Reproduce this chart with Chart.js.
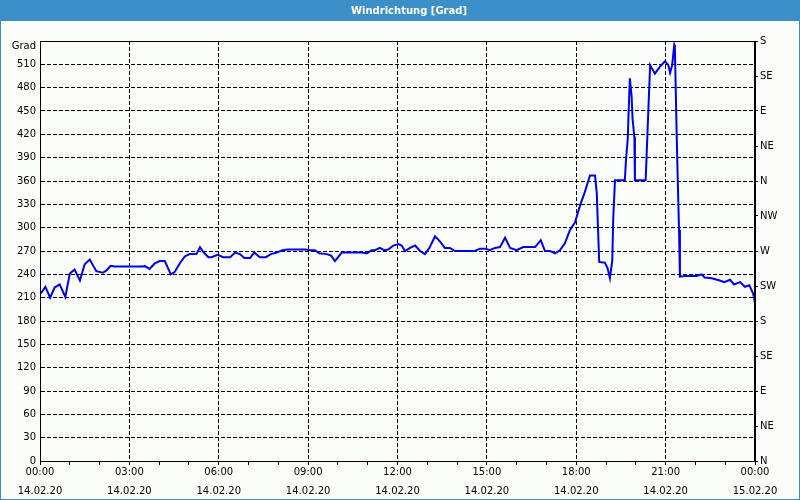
<!DOCTYPE html>
<html>
<head>
<meta charset="utf-8">
<script src="https://cdn.jsdelivr.net/npm/chart.js@4"></script>
<style>
html,body{margin:0;padding:0;background:#fafdfa;}
canvas{display:block;}
</style>
</head>
<body>
<canvas id="c" width="800" height="500"></canvas>
<script>
const TITLE = 'Windrichtung [Grad]';
const UNIT = 'Grad';
// time in hours since 14.02.20 00:00
const hours = [0.02,0.18,0.34,0.49,0.66,0.85,1.00,1.16,1.34,1.50,1.67,1.89,2.11,2.23,2.37,2.51,3.46,3.51,3.68,3.85,4.02,4.19,4.39,4.52,4.69,4.86,5.02,5.25,5.37,5.48,5.65,5.76,5.96,6.15,6.38,6.55,6.71,6.86,7.05,7.19,7.38,7.58,7.75,7.95,8.13,8.31,8.90,9.06,9.23,9.37,9.62,9.77,9.90,10.13,10.80,10.97,11.13,11.24,11.41,11.55,11.69,11.86,12.03,12.14,12.25,12.42,12.59,12.76,12.92,13.07,13.26,13.43,13.59,13.76,13.93,14.10,14.60,14.77,14.94,15.10,15.27,15.44,15.61,15.78,16.00,16.22,16.62,16.81,16.95,17.12,17.29,17.45,17.62,17.79,17.96,18.13,18.29,18.46,18.63,18.69,18.72,18.77,18.96,19.05,19.13,19.21,19.24,19.30,19.63,19.67,19.73,19.75,19.80,19.86,19.89,19.95,19.97,20.33,20.36,20.42,20.48,20.64,20.81,20.98,21.09,21.15,21.22,21.29,21.31,21.34,21.37,21.41,21.45,21.48,21.65,22.04,22.21,22.31,22.55,22.82,22.97,23.16,23.30,23.50,23.66,23.81,23.94,24.00];
const direction = [215,224,210,223,227,211,241,246,232,253,259,244,242,245,251,250,250,251,247,254,257,257,240,243,254,263,266,266,275,269,262,262,265,262,262,268,266,261,261,268,262,262,266,268,271,272,272,271,271,267,266,264,257,268,268,267,271,271,274,271,272,277,279,277,270,274,277,270,266,274,289,282,274,274,270,270,270,273,273,271,274,275,287,274,271,275,275,284,270,270,267,271,280,297,307,329,346,367,367,344,310,256,255,248,235,258,310,361,361,387,415,440,492,468,440,417,361,361,391,451,509,498,507,514,509,499,509,535,532,477,421,357,297,237,238,238,240,236,235,232,230,233,227,230,224,226,215,203];
const leftTicks = [0,30,60,90,120,150,180,210,240,270,300,330,360,390,420,450,480,510];
const compass = ['N','NE','E','SE','S','SW','W','NW','N','NE','E','SE','S'];
const dateStart = '14.02.20';
const dateEnd = '15.02.20';

const FONT = '"DejaVu Sans", sans-serif';
const BAR = '#3d8fc8';
const BG = '#fafdfa';

const points = hours.map((h, i) => ({x: h, y: direction[i]}));

const frame = {
  id: 'frame',
  beforeDraw(chart) {
    const c = chart.ctx;
    c.save();
    c.fillStyle = BG;
    c.fillRect(0, 0, 800, 500);
    c.fillStyle = BAR;
    c.fillRect(0, 0, 800, 21);
    c.fillStyle = '#ffffff';
    c.font = 'bold 10px ' + FONT;
    c.textAlign = 'center';
    c.textBaseline = 'middle';
    c.fillText(TITLE, 409, 11);
    c.restore();
  },
  afterDraw(chart) {
    const c = chart.ctx;
    const a = chart.chartArea;
    c.save();
    c.strokeStyle = '#000';
    c.lineWidth = 1;
    c.strokeRect(Math.round(a.left) + 0.5, Math.round(a.top) + 0.5, Math.round(a.right - a.left) - 1, Math.round(a.bottom - a.top));
    c.strokeStyle = BAR;
    c.strokeRect(0.5, 0.5, 799, 499);
    c.fillStyle = '#000';
    c.font = '10px ' + FONT;
    c.textAlign = 'right';
    c.textBaseline = 'middle';
    c.fillText(UNIT, 36, 46);
    c.restore();
  }
};

new Chart(document.getElementById('c'), {
  type: 'line',
  data: {
    datasets: [{
      data: points,
      borderColor: '#0000f0',
      borderWidth: 2,
      pointRadius: 0,
      tension: 0,
      fill: false,
      yAxisID: 'y'
    }]
  },
  options: {
    responsive: false,
    animation: false,
    layout: {padding: {top: 41, left: 0, right: 0, bottom: 0}},
    plugins: {legend: {display: false}, tooltip: {enabled: false}, title: {display: false}},
    scales: {
      x: {
        type: 'linear',
        min: 0, max: 24,
        afterFit(s) { s.height = 39; },
        ticks: {
          stepSize: 1,
          autoSkip: false,
          maxRotation: 0,
          padding: -2,
          color: '#000',
          font: {family: FONT, size: 10, lineHeight: 1.9},
          callback(v) {
            if (v % 3 !== 0) return '';
            const hh = String(v % 24).padStart(2, '0') + ':00';
            return [hh, v >= 24 ? dateEnd : dateStart];
          }
        },
        grid: {
          color: (ctx) => (ctx.tick && ctx.tick.value % 3 === 0 && ctx.tick.value > 0 && ctx.tick.value < 24) ? '#000' : 'rgba(0,0,0,0)',
          tickColor: '#000',
          tickLength: 4,
          tickBorderDash: [],
          lineWidth: 1
        },
        border: {display: true, color: '#000', dash: [4, 2]}
      },
      y: {
        position: 'left',
        min: 0, max: 540,
        afterFit(s) { s.width = 40; },
        afterBuildTicks(s) { s.ticks = leftTicks.map(v => ({value: v})); },
        ticks: {
          padding: 4,
          color: '#000',
          font: {family: FONT, size: 10}
        },
        grid: {
          color: (ctx) => (ctx.tick && ctx.tick.value > 0) ? '#000' : 'rgba(0,0,0,0)',
          drawTicks: false,
          lineWidth: 1
        },
        border: {display: true, color: '#000', dash: [4, 2]}
      },
      y2: {
        position: 'right',
        min: 0, max: 540,
        afterFit(s) { s.width = 45; },
        afterBuildTicks(s) { s.ticks = compass.map((n, i) => ({value: i * 45})); },
        ticks: {
          padding: 2,
          color: '#000',
          font: {family: FONT, size: 10},
          callback(v) { return compass[Math.round(v / 45)]; }
        },
        grid: {
          drawOnChartArea: false,
          drawTicks: true,
          tickLength: 3,
          tickColor: '#000',
          tickBorderDash: []
        },
        border: {display: true, color: '#000'}
      }
    }
  },
  plugins: [frame]
});
</script>
</body>
</html>
